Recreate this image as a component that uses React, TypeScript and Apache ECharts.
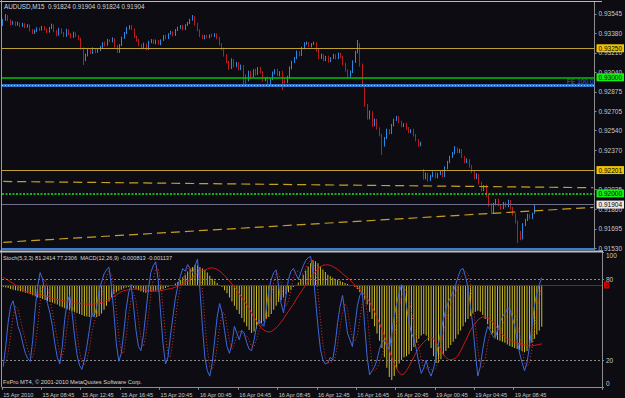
import React, { useEffect, useRef } from "react";
import * as echarts from "echarts";

// ---------- texts ----------
const SYMBOL_TITLE = "AUDUSD,M15  0.91824 0.91904 0.91824 0.91904";
const SUB_TITLE = "Stoch(5,3,3) 81.2414 77.2306  MACD(12,26,9) -0.000813 -0.001137";
const COPYRIGHT = "FxPro MT4, \u00a9 2001-2010 MetaQuotes Software Corp.";

// ---------- time axis ----------
const TIME_LABELS = [
  "15 Apr 2010", "15 Apr 08:45", "15 Apr 12:45", "15 Apr 16:45", "15 Apr 20:45",
  "16 Apr 00:45", "16 Apr 04:45", "16 Apr 08:45", "16 Apr 12:45", "16 Apr 16:45",
  "16 Apr 20:45", "19 Apr 00:45", "19 Apr 04:45", "19 Apr 08:45",
];
const BARS_PER_LABEL = 16;
const SLOT_COUNT = 244;

// ---------- price axis ----------
const PRICE_MIN = 0.915128;
const PRICE_MAX = 0.936483;
const PRICE_TICKS = [0.93545, 0.9338, 0.9321, 0.9304, 0.92875, 0.92705, 0.9254, 0.9237, 0.92035, 0.9186, 0.91695, 0.9153];

// ---------- candles (points above 0.90000, 1 point = 0.00001) ----------
const FIRST_OPEN = 3450;
const GAP_OPENS: Record<number, number> = { 173: 2185 };
const CLOSE = [
  3493, 3528, 3493, 3459, 3476, 3450, 3467, 3442, 3459, 3433,
  3450, 3407, 3381, 3399, 3424, 3407, 3433, 3416, 3390, 3424,
  3450, 3399, 3364, 3416, 3381, 3356, 3407, 3373, 3347, 3381,
  3356, 3330, 3252, 3149, 3192, 3235, 3209, 3243, 3218, 3235,
  3261, 3295, 3278, 3321, 3312, 3330, 3269, 3218, 3278, 3338,
  3381, 3424, 3442, 3416, 3347, 3321, 3278, 3252, 3287, 3243,
  3304, 3321, 3295, 3312, 3287, 3321, 3356, 3338, 3373, 3390,
  3364, 3407, 3424, 3442, 3416, 3450, 3467, 3493, 3519, 3459,
  3407, 3356, 3338, 3356, 3347, 3364, 3356, 3373, 3338, 3287,
  3243, 3192, 3132, 3080, 3149, 3097, 3123, 3072, 3097, 3020,
  2977, 3046, 3011, 3063, 3029, 3080, 3046, 2977, 2994, 2951,
  2985, 3037, 3063, 3020, 3046, 2985, 2959, 3002, 3080, 3132,
  3166, 3218, 3192, 3252, 3287, 3295, 3269, 3287, 3295, 3235,
  3166, 3192, 3149, 3175, 3140, 3166, 3192, 3166, 3201, 3175,
  3115, 3063, 3011, 3046, 3132, 3218, 3278, 3106, 2934, 2761,
  2649, 2701, 2589, 2632, 2563, 2503, 2417, 2477, 2546, 2520,
  2589, 2632, 2658, 2615, 2580, 2598, 2563, 2529, 2546, 2503,
  2460, 2417, 2434, 2133, 2167, 2116, 2150, 2176, 2141, 2167,
  2185, 2150, 2219, 2271, 2314, 2348, 2383, 2357, 2374, 2314,
  2271, 2288, 2236, 2185, 2133, 2159, 2090, 2030, 2064, 1986,
  1900, 1840, 1909, 1943, 1900, 1874, 1917, 1891, 1934, 1874,
  1822, 1754, 1668, 1616, 1728, 1771, 1814, 1788, 1824, 1904,
];
const UP_WICK = [
  10, 17, 8, 6, 9, 5, 12, 4, 10, 6,
  8, 5, 9, 12, 6, 4, 10, 7, 5, 9,
  12, 6, 8, 10, 5, 9, 11, 4, 7, 12,
  6, 8, 10, 6, 12, 9, 5, 14, 7, 10,
  8, 6, 12, 9, 5, 14, 6, 10, 8, 12,
  9, 10, 6, 8, 5, 12, 9, 7, 11, 6,
  10, 8, 6, 12, 9, 5, 8, 10, 7, 11,
  6, 9, 12, 8, 10, 7, 9, 11, 17, 8,
  10, 6, 12, 8, 9, 5, 11, 7, 6, 10,
  8, 12, 6, 9, 14, 7, 10, 8, 12, 9,
  6, 11, 9, 7, 12, 8, 10, 6, 9, 11,
  8, 12, 7, 10, 6, 9, 8, 11, 14, 10,
  9, 12, 8, 10, 14, 12, 9, 7, 11, 8,
  10, 12, 7, 9, 11, 8, 10, 6, 12, 9,
  8, 10, 6, 12, 14, 10, 43, 15, 12, 10,
  9, 14, 8, 12, 10, 7, 11, 9, 12, 8,
  10, 12, 9, 8, 11, 7, 10, 9, 8, 12,
  9, 7, 10, 26, 12, 9, 11, 14, 8, 10,
  9, 12, 14, 10, 11, 9, 25, 12, 10, 8,
  9, 14, 7, 10, 12, 15, 8, 10, 9, 12,
  10, 14, 11, 9, 12, 8, 10, 7, 12, 9,
  10, 8, 12, 9, 16, 10, 12, 8, 9, 0,
];
const DN_WICK = [
  8, 6, 10, 12, 7, 9, 5, 11, 8, 10,
  6, 12, 9, 7, 10, 8, 5, 11, 9, 6,
  8, 10, 12, 6, 9, 11, 7, 10, 12, 8,
  9, 11, 14, 43, 10, 12, 8, 9, 11, 7,
  10, 8, 12, 6, 9, 11, 14, 10, 8, 9,
  7, 9, 12, 10, 8, 14, 11, 9, 10, 12,
  8, 10, 9, 11, 7, 12, 8, 10, 9, 6,
  11, 8, 9, 7, 12, 10, 8, 9, 6, 14,
  12, 10, 9, 11, 8, 12, 10, 9, 11, 13,
  10, 14, 12, 16, 9, 12, 11, 14, 10, 104,
  40, 12, 28, 10, 14, 9, 12, 16, 11, 13,
  10, 8, 12, 9, 11, 94, 14, 10, 9, 12,
  8, 10, 12, 9, 11, 8, 10, 12, 9, 14,
  12, 9, 11, 10, 13, 9, 8, 12, 10, 11,
  12, 14, 16, 10, 9, 8, 12, 14, 18, 16,
  14, 12, 16, 10, 14, 12, 86, 14, 10, 12,
  9, 11, 8, 12, 10, 9, 14, 11, 10, 12,
  12, 16, 10, 14, 12, 16, 10, 9, 12, 11,
  10, 12, 9, 11, 10, 8, 12, 9, 11, 10,
  12, 10, 14, 11, 13, 10, 12, 14, 10, 16,
  14, 18, 10, 12, 11, 14, 9, 12, 10, 13,
  12, 14, 95, 20, 12, 10, 9, 11, 10, 0,
];

// ---------- horizontal levels / trend lines (prices) ----------
const GOLD_LEVELS = [0.9325, 0.92201];
const GREEN_SOLID_LEVEL = 0.93;
const GREEN_DOTTED_LEVEL = 0.92;
const FE_LEVEL = 0.92929;
const FE_LOW_LEVEL = 0.9152;
const BID_LEVEL = 0.91904;
const TREND_UPPER = [0.92103, 0.92049];
const TREND_LOWER = [0.91579, 0.9188];

// ---------- MACD (units of 0.00001) ----------
const MACD_MAIN = [
  -4, -5, -6, -8, -9, -10, -11, -12, -13, -15,
  -16, -18, -20, -22, -24, -25, -27, -29, -31, -33,
  -34, -36, -38, -41, -43, -45, -47, -49, -51, -53,
  -54, -56, -58, -60, -61, -62, -62, -61, -62, -60,
  -55, -48, -40, -32, -24, -18, -14, -11, -9, -7,
  -5, -4, -4, -6, -8, -10, -12, -14, -15, -14,
  -13, -12, -11, -10, -9, -8, -6, -4, -2, 0,
  3, 6, 10, 15, 20, 26, 31, 35, 39, 38,
  35, 32, 29, 24, 18, 12, 8, 4, 0, -4,
  -10, -16, -24, -32, -40, -48, -56, -64, -72, -80,
  -87, -93, -90, -84, -76, -74, -70, -66, -62, -56,
  -48, -40, -33, -29, -24, -18, -14, -9, -4, 0,
  5, 12, 20, 28, 36, 42, 48, 46, 42, 36,
  30, 25, 20, 17, 14, 12, 10, 8, 6, 4,
  2, 0, -2, -4, -8, -14, -20, -28, -38, -52,
  -66, -80, -94, -108, -122, -140, -160, -178, -184, -176,
  -162, -152, -145, -140, -138, -134, -128, -120, -112, -104,
  -98, -95, -98, -108, -122, -138, -151, -150, -144, -136,
  -128, -122, -116, -110, -104, -96, -88, -80, -72, -66,
  -60, -55, -52, -50, -52, -58, -66, -76, -86, -94,
  -100, -106, -108, -110, -112, -115, -118, -120, -122, -124,
  -126, -128, -130, -128, -120, -112, -104, -96, -88, -81,
];
const MACD_SIGNAL = [
  15, 12, 9, 6, 3, 0, -3, -6, -9, -12,
  -14, -15, -16, -17, -18, -19, -20, -21, -22, -24,
  -26, -27, -28, -29, -30, -31, -32, -33, -34, -35,
  -35, -36, -36, -37, -37, -37, -37, -37, -36, -35,
  -34, -32, -30, -28, -25, -22, -19, -16, -13, -11,
  -10, -9, -8, -8, -8, -8, -8, -9, -10, -11,
  -11, -12, -12, -12, -11, -10, -9, -8, -7, -6,
  -4, -2, 0, 2, 5, 8, 11, 15, 19, 23,
  26, 28, 29, 31, 33, 33, 32, 30, 27, 23,
  18, 13, 8, 2, -4, -10, -17, -24, -31, -38,
  -46, -54, -62, -70, -77, -83, -87, -90, -91, -90,
  -87, -83, -78, -72, -65, -58, -51, -44, -37, -29,
  -21, -14, -7, 0, 7, 14, 20, 26, 31, 35,
  38, 39, 39, 38, 36, 33, 30, 26, 22, 18,
  14, 10, 5, 0, -4, -9, -14, -20, -26, -33,
  -42, -52, -62, -74, -86, -98, -112, -126, -140, -152,
  -162, -170, -174, -172, -166, -158, -148, -139, -130, -122,
  -116, -111, -106, -102, -101, -104, -110, -118, -126, -134,
  -140, -144, -145, -144, -141, -136, -128, -118, -108, -98,
  -88, -80, -74, -68, -64, -62, -62, -64, -67, -72,
  -78, -84, -90, -95, -100, -104, -107, -109, -111, -113,
  -114, -115, -116, -117, -118, -118, -117, -116, -115, -114,
];
const MACD_MIN = -197.3;
const MACD_MAX = 63.1;

// ---------- Stochastic ----------
const STOCH_MAIN = [
  15, 30, 48, 60, 64, 55, 45, 40, 32, 25,
  21, 19, 35, 58, 75, 85, 80, 70, 62, 55,
  45, 32, 22, 17, 30, 50, 63, 68, 55, 38,
  24, 16, 13, 20, 30, 42, 55, 52, 60, 72,
  78, 84, 87, 89, 75, 55, 32, 19, 25, 40,
  58, 70, 76, 60, 42, 30, 27, 38, 55, 72,
  85, 90, 93, 80, 55, 32, 17, 22, 38, 52,
  66, 75, 82, 88, 86, 91, 88, 85, 90, 95,
  72, 45, 22, 12, 8, 18, 35, 52, 62, 55,
  42, 30, 25, 32, 45, 40, 35, 42, 40, 33,
  28, 27, 35, 45, 50, 47, 45, 58, 72, 80,
  85, 87, 75, 62, 55, 68, 80, 86, 88, 84,
  80, 85, 90, 94, 96, 97, 85, 65, 45, 28,
  20, 17, 18, 22, 20, 32, 48, 60, 68, 55,
  40, 35, 30, 45, 60, 68, 71, 45, 22, 9,
  12, 15, 20, 28, 33, 35, 30, 28, 40, 52,
  62, 70, 76, 72, 60, 48, 40, 36, 28, 18,
  10, 14, 20, 12, 8, 14, 22, 32, 42, 50,
  58, 63, 67, 71, 76, 82, 87, 88, 82, 74,
  60, 45, 25, 8, 15, 28, 38, 45, 42, 38,
  36, 42, 48, 52, 55, 58, 58, 52, 45, 35,
  25, 18, 12, 18, 30, 45, 60, 70, 76, 81.24,
];
const STOCH_SIGNAL = [
  20, 18, 25, 38, 52, 60, 58, 50, 42, 35,
  28, 22, 22, 30, 45, 63, 76, 80, 74, 65,
  56, 45, 35, 25, 22, 30, 45, 58, 62, 55,
  40, 27, 18, 16, 20, 28, 40, 48, 54, 58,
  66, 76, 82, 86, 84, 75, 56, 38, 26, 25,
  38, 53, 66, 70, 64, 50, 36, 30, 38, 52,
  68, 80, 88, 88, 78, 58, 38, 24, 22, 35,
  50, 64, 74, 80, 85, 88, 88, 88, 86, 88,
  86, 72, 48, 28, 15, 13, 18, 30, 45, 55,
  55, 45, 34, 28, 32, 38, 42, 40, 38, 38,
  35, 30, 30, 35, 42, 46, 47, 50, 58, 68,
  78, 84, 84, 78, 66, 60, 64, 72, 82, 86,
  86, 84, 84, 88, 92, 94, 94, 86, 70, 50,
  32, 22, 18, 18, 19, 22, 32, 44, 56, 62,
  58, 46, 36, 34, 38, 50, 62, 66, 56, 35,
  16, 12, 14, 18, 24, 30, 33, 32, 32, 38,
  48, 58, 68, 72, 72, 66, 56, 46, 38, 30,
  20, 14, 14, 15, 13, 12, 14, 20, 30, 40,
  48, 56, 62, 66, 70, 75, 80, 85, 86, 84,
  76, 62, 46, 28, 16, 14, 20, 32, 40, 42,
  40, 38, 40, 45, 50, 54, 56, 56, 54, 48,
  38, 28, 18, 15, 18, 28, 42, 56, 66, 77.23,
];
const STOCH_TICKS = [0, 20, 80, 100];
const STOCH_LEVELS = [80, 20];

// ---------- styling ----------
const BG = "#0c0c12";
const FONT = "'Liberation Sans', Arial, sans-serif";
const AXIS_TEXT = "#c8c8c8";
const FRAME = "#8c8c8c";
const UP = "#2c88de";
const DOWN = "#b81c1c";
const GREEN_LINE = "#00c400";
const GREEN_DOT = "#18ec18";
const GREEN_BOX = "#14f014";

const toPrice = (v: number) => 0.9 + v / 100000;

function buildOption() {
  const cats = Array.from({ length: SLOT_COUNT }, (_, i) => "b" + i);
  const candles = CLOSE.map((c, i) => {
    const o = i === 0 ? FIRST_OPEN : GAP_OPENS[i] !== undefined ? GAP_OPENS[i] : CLOSE[i - 1];
    const hi = Math.max(o, c) + UP_WICK[i];
    const lo = Math.min(o, c) - DN_WICK[i];
    return [toPrice(o), toPrice(c), toPrice(lo), toPrice(hi)];
  });

  const isLabelIdx = (idx: number) =>
    idx % BARS_PER_LABEL === 0 && idx / BARS_PER_LABEL < TIME_LABELS.length;

  const boxLabel = (text: string, bg: string, fg: string) => ({
    show: true,
    position: "end",
    formatter: text,
    backgroundColor: bg,
    color: fg,
    fontSize: 6.5,
    fontFamily: FONT,
    padding: [1, 2, 0, 2],
    lineHeight: 7,
    distance: 2,
  });

  const priceMarks: any[] = [
    {
      yAxis: FE_LEVEL,
      lineStyle: { color: "#2f74c8", width: 3, type: "solid" },
      label: {
        show: true,
        position: "insideEndTop",
        formatter: "FE 100.0",
        color: "#2f6fd0",
        fontSize: 6.5,
        fontFamily: FONT,
        distance: 1,
      },
    },
    {
      yAxis: FE_LEVEL,
      lineStyle: { color: "#9cc6f4", width: 1, type: [1, 2] },
      label: { show: false },
    },
    {
      yAxis: FE_LOW_LEVEL,
      lineStyle: { color: "#3a7cd0", width: 2, type: "solid" },
      label: { show: false },
    },
    [
      { coord: [cats[0], TREND_UPPER[0]], lineStyle: { color: "#c8a020", width: 1.2, type: [9, 5] } },
      { coord: [cats[SLOT_COUNT - 1], TREND_UPPER[1]] },
    ],
    [
      { coord: [cats[0], TREND_LOWER[0]], lineStyle: { color: "#c8a020", width: 1.2, type: [9, 5] } },
      { coord: [cats[SLOT_COUNT - 1], TREND_LOWER[1]] },
    ],
    {
      yAxis: BID_LEVEL,
      lineStyle: { color: "#70708a", width: 1, type: "solid" },
      label: boxLabel(BID_LEVEL.toFixed(5), "#e8e8e8", "#000"),
    },
    ...GOLD_LEVELS.map((p) => ({
      yAxis: p,
      lineStyle: { color: "#bfa033", width: 1, type: "solid" },
      label: boxLabel(p.toFixed(5), "#f0c400", "#000"),
    })),
  ];

  const greenMarks: any[] = [
    {
      yAxis: GREEN_DOTTED_LEVEL,
      lineStyle: { color: GREEN_DOT, width: 1.6, type: [2, 1.5], opacity: 1 },
      label: boxLabel(GREEN_DOTTED_LEVEL.toFixed(5), GREEN_BOX, "#000"),
    },
    {
      yAxis: GREEN_SOLID_LEVEL,
      lineStyle: { color: GREEN_LINE, width: 1.6, type: "solid", opacity: 1 },
      label: boxLabel(GREEN_SOLID_LEVEL.toFixed(5), GREEN_BOX, "#000"),
    },
  ];

  const frameLine = (x1: number, y1: number, x2: number, y2: number, color: string, w = 1) => ({
    type: "line",
    shape: { x1, y1, x2, y2 },
    style: { stroke: color, lineWidth: w },
    silent: true,
    z: 50,
  });
  const label = (text: string, x: number, y: number, size: number) => ({
    type: "text",
    x,
    y,
    style: { text, fill: "#d4d4d4", font: `${size}px ${FONT}`, textVerticalAlign: "middle" },
    silent: true,
    z: 60,
  });

  return {
    animation: false,
    backgroundColor: BG,
    grid: [
      { left: 2, right: 23, top: 2, height: 248 },
      { left: 2, right: 23, top: 252.4, height: 134.5 },
    ],
    xAxis: [
      {
        type: "category",
        gridIndex: 0,
        data: cats,
        boundaryGap: true,
        axisLine: { show: false },
        axisTick: { show: false },
        axisLabel: { show: false },
        splitLine: { show: false },
      },
      {
        type: "category",
        gridIndex: 1,
        data: cats,
        boundaryGap: true,
        axisLine: { show: true, lineStyle: { color: FRAME, width: 1 } },
        axisTick: {
          show: true,
          interval: (idx: number) => isLabelIdx(idx),
          length: 3,
          lineStyle: { color: FRAME },
        },
        axisLabel: {
          show: true,
          interval: (idx: number) => isLabelIdx(idx),
          formatter: (v: string) => {
            const idx = Number(String(v).slice(1));
            return isLabelIdx(idx) ? TIME_LABELS[idx / BARS_PER_LABEL] : "";
          },
          align: "left",
          color: AXIS_TEXT,
          fontSize: 5.6,
          fontFamily: FONT,
          margin: 5,
        },
        splitLine: { show: false },
      },
    ],
    yAxis: [
      {
        type: "value",
        gridIndex: 0,
        position: "right",
        min: PRICE_MIN,
        max: PRICE_MAX,
        axisLine: { show: true, lineStyle: { color: FRAME, width: 1 } },
        axisTick: { show: true, customValues: PRICE_TICKS, length: 2, lineStyle: { color: FRAME } },
        axisLabel: {
          show: true,
          customValues: PRICE_TICKS,
          formatter: (v: number) => v.toFixed(5),
          color: AXIS_TEXT,
          fontSize: 6.5,
          fontFamily: FONT,
          margin: 4,
        },
        splitLine: { show: false },
      },
      {
        type: "value",
        gridIndex: 1,
        position: "right",
        min: 0,
        max: 100,
        axisLine: { show: true, lineStyle: { color: FRAME, width: 1 } },
        axisTick: { show: true, customValues: STOCH_TICKS, length: 2, lineStyle: { color: FRAME } },
        axisLabel: {
          show: true,
          customValues: STOCH_TICKS,
          formatter: (v: number) => (v === 100 ? "{t|100}" : v === 0 ? "{b|0}" : String(v)),
          rich: {
            t: { padding: [7, 0, 0, 0], fontSize: 6.5, color: AXIS_TEXT, fontFamily: FONT },
            b: { padding: [0, 0, 7, 0], fontSize: 6.5, color: AXIS_TEXT, fontFamily: FONT },
          },
          color: AXIS_TEXT,
          fontSize: 6.5,
          fontFamily: FONT,
          margin: 4,
        },
        splitLine: { show: false },
      },
      {
        type: "value",
        gridIndex: 1,
        min: MACD_MIN,
        max: MACD_MAX,
        show: false,
        splitLine: { show: false },
      },
    ],
    series: [
      {
        type: "candlestick",
        xAxisIndex: 0,
        yAxisIndex: 0,
        data: candles,
        barWidth: 1.3,
        itemStyle: {
          color: UP,
          color0: DOWN,
          borderColor: UP,
          borderColor0: DOWN,
          borderWidth: 1,
        },
        markLine: {
          silent: true,
          precision: 6,
          symbol: ["none", "none"],
          animation: false,
          data: priceMarks,
        },
        z: 3,
      },
      {
        name: "green-levels",
        type: "line",
        xAxisIndex: 0,
        yAxisIndex: 0,
        data: [],
        color: GREEN_LINE,
        showSymbol: false,
        lineStyle: { color: GREEN_LINE },
        markLine: {
          silent: true,
          precision: 6,
          symbol: ["none", "none"],
          animation: false,
          lineStyle: { color: GREEN_LINE, width: 1.6 },
          data: greenMarks,
        },
        z: 4,
      },
      {
        type: "bar",
        xAxisIndex: 1,
        yAxisIndex: 2,
        data: MACD_MAIN,
        barWidth: 1,
        itemStyle: { color: "#ccbe26" },
        markLine: {
          silent: true,
          precision: 6,
          symbol: ["none", "none"],
          animation: false,
          data: [
            {
              yAxis: 0,
              lineStyle: { color: "#d00000", width: 1, type: "solid" },
              label: {
                show: true,
                position: "end",
                formatter: "0",
                backgroundColor: "#d80000",
                color: "#3a0000",
                fontSize: 6,
                fontFamily: FONT,
                padding: [1, 1, 0, 1],
                distance: 2,
              },
            },
          ],
        },
        z: 2,
      },
      {
        type: "line",
        xAxisIndex: 1,
        yAxisIndex: 2,
        data: MACD_SIGNAL,
        showSymbol: false,
        symbol: "none",
        lineStyle: { color: "#d01818", width: 1 },
        z: 4,
      },
      {
        type: "line",
        xAxisIndex: 1,
        yAxisIndex: 1,
        data: STOCH_MAIN,
        showSymbol: false,
        symbol: "none",
        lineStyle: { color: "#3f68dc", width: 1 },
        markLine: {
          silent: true,
          precision: 6,
          symbol: ["none", "none"],
          animation: false,
          label: { show: false },
          data: STOCH_LEVELS.map((v) => ({
            yAxis: v,
            lineStyle: { color: "#8a8a8a", width: 1, type: [2, 2] },
          })),
        },
        z: 5,
      },
      {
        type: "line",
        xAxisIndex: 1,
        yAxisIndex: 1,
        data: STOCH_SIGNAL,
        showSymbol: false,
        symbol: "none",
        lineStyle: { color: "#d83030", width: 1, type: [1, 2] },
        z: 6,
      },
    ],
    graphic: [
      frameLine(0, 1.5, 602, 1.5, "#b8b8b8"),
      frameLine(1.5, 0, 1.5, 387, "#9a9a9a"),
      {
        type: "rect",
        shape: { x: 0, y: 250.5, width: 603, height: 2 },
        style: { fill: "#b8bcc8" },
        silent: true,
        z: 50,
      },
      label(SYMBOL_TITLE, 4, 6.5, 6.3),
      label(SUB_TITLE, 3, 257.5, 5.6),
      label(COPYRIGHT, 3, 382, 5.8),
    ],
  };
}

export default function App() {
  const ref = useRef<HTMLDivElement>(null);
  useEffect(() => {
    if (!ref.current) return;
    const chart = echarts.init(ref.current, null, { renderer: "svg" });
    chart.setOption(buildOption() as any);
    return () => chart.dispose();
  }, []);
  return (
    <div
      ref={ref}
      style={{ width: 625, height: 398, position: "absolute", left: 0, top: 0 }}
    />
  );
}
